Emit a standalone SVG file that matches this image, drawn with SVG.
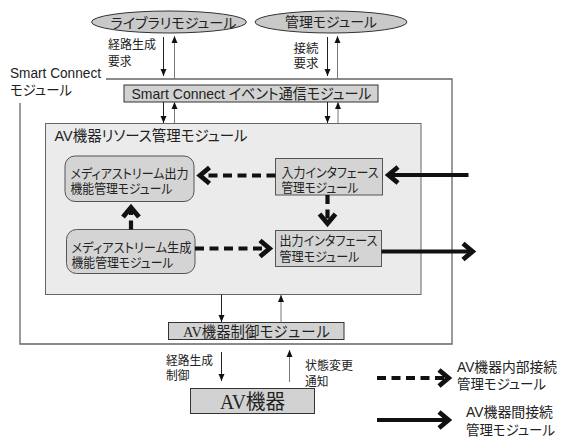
<svg xmlns="http://www.w3.org/2000/svg" width="563" height="438" viewBox="0 0 563 438">
<defs>
<style>
.t{font-family:'Liberation Sans','Noto Sans CJK JP',sans-serif;fill:#222;font-feature-settings:"palt" 1;}
.s{font-family:'Liberation Serif','Noto Sans CJK JP',serif;fill:#222;}
.ell{fill:#c9c9c9;stroke:#333;stroke-width:1;}
.gbox{fill:#d2d2d2;stroke:#333;stroke-width:1;}
.ibox{fill:#d4d4d4;stroke:#555;stroke-width:1;}
.thinD{fill:none;stroke:#222;stroke-width:1;}
.thinU{fill:none;stroke:#777;stroke-width:1;}
.thick{fill:none;stroke:#111;stroke-width:4.2;}
.dash{fill:none;stroke:#111;stroke-width:4.2;stroke-dasharray:9 5.5;}
</style>
<marker id="tri" markerUnits="userSpaceOnUse" viewBox="-8 -4 9 8" markerWidth="9" markerHeight="8" refX="0" refY="0" orient="auto">
<path d="M-7,-3 L0,0 L-7,3 Z" fill="#111"/>
</marker>
<marker id="chev" markerUnits="userSpaceOnUse" viewBox="-14 -12 22 24" markerWidth="22" markerHeight="24" refX="0" refY="0" orient="auto" overflow="visible">
<path d="M-8.5,-8 L1,0 L-8.5,8" fill="none" stroke="#111" stroke-width="4.8" stroke-linejoin="miter" stroke-dasharray="none"/>
</marker>
</defs>
<rect width="563" height="438" fill="#fff"/>

<g id="smart-connect-module">
<path d="M106,79 H452 V344 H20 V103" fill="none" stroke="#666" stroke-width="1.3"/>
<text class="t" x="10" y="78" font-size="14" textLength="91" lengthAdjust="spacingAndGlyphs">Smart Connect</text>
<text class="t" x="10" y="95" font-size="14" textLength="62" lengthAdjust="spacingAndGlyphs">モジュール</text>
</g>

<g id="library-module">
<ellipse class="ell" cx="169" cy="22" rx="77.5" ry="11"/>
<text class="t" x="110.5" y="27.5" font-size="14" textLength="126" lengthAdjust="spacingAndGlyphs">ライブラリモジュール</text>
</g>

<g id="management-module">
<ellipse class="ell" cx="331" cy="22" rx="76" ry="11"/>
<text class="t" x="285" y="27" font-size="14" textLength="92" lengthAdjust="spacingAndGlyphs">管理モジュール</text>
</g>

<g id="event-module">
<rect class="gbox" x="124" y="85" width="254" height="17"/>
<text class="t" x="131.5" y="98.5" font-size="15" textLength="240" lengthAdjust="spacingAndGlyphs">Smart Connect イベント通信モジュール</text>
</g>

<g id="av-resource-module">
<rect x="45.5" y="123.5" width="375.5" height="171" fill="#ebebeb" stroke="#666" stroke-width="1"/>
<text class="t" x="54.5" y="141" font-size="15" textLength="193" lengthAdjust="spacingAndGlyphs">AV機器リソース管理モジュール</text>
</g>

<g id="media-output">
<rect class="ibox" x="65" y="156" width="129" height="45.5" rx="10"/>
<text class="t" x="70.5" y="178" font-size="13" textLength="118" lengthAdjust="spacingAndGlyphs">メディアストリーム出力</text>
<text class="t" x="70.5" y="192.7" font-size="13" textLength="102" lengthAdjust="spacingAndGlyphs">機能管理モジュール</text>
</g>

<g id="media-generation">
<rect class="ibox" x="66.5" y="229.5" width="128.5" height="44" rx="10"/>
<text class="t" x="71.5" y="252.3" font-size="13" textLength="120" lengthAdjust="spacingAndGlyphs">メディアストリーム生成</text>
<text class="t" x="71.5" y="266.7" font-size="13" textLength="102" lengthAdjust="spacingAndGlyphs">機能管理モジュール</text>
</g>

<g id="input-interface">
<rect class="ibox" x="275.5" y="158.5" width="107" height="36.5"/>
<text class="t" x="281.5" y="176.7" font-size="13" textLength="97" lengthAdjust="spacingAndGlyphs">入力インタフェース</text>
<text class="t" x="281.5" y="192" font-size="13" textLength="77" lengthAdjust="spacingAndGlyphs">管理モジュール</text>
</g>

<g id="output-interface">
<rect class="ibox" x="275.5" y="230.5" width="106" height="36"/>
<text class="t" x="279.5" y="245" font-size="13" textLength="98" lengthAdjust="spacingAndGlyphs">出力インタフェース</text>
<text class="t" x="279.5" y="260.5" font-size="13" textLength="80" lengthAdjust="spacingAndGlyphs">管理モジュール</text>
</g>

<g id="av-control-module">
<rect class="gbox" x="168.5" y="322.5" width="175.5" height="17"/>
<text class="s" x="183" y="337" font-size="15" textLength="147" lengthAdjust="spacingAndGlyphs">AV機器制御モジュール</text>
</g>

<g id="av-device">
<rect class="gbox" x="190.5" y="388.5" width="124" height="25"/>
<text class="s" x="220" y="408.5" font-size="20" textLength="65" lengthAdjust="spacingAndGlyphs">AV機器</text>
</g>

<g id="labels">
<text class="t" x="108" y="48.5" font-size="12" textLength="48" lengthAdjust="spacingAndGlyphs">経路生成</text>
<text class="t" x="108" y="65.5" font-size="12" textLength="23.5" lengthAdjust="spacingAndGlyphs">要求</text>
<text class="t" x="293.5" y="52.5" font-size="12" textLength="25" lengthAdjust="spacingAndGlyphs">接続</text>
<text class="t" x="293.5" y="67.5" font-size="12" textLength="25" lengthAdjust="spacingAndGlyphs">要求</text>
<text class="t" x="166" y="365" font-size="12" textLength="47" lengthAdjust="spacingAndGlyphs">経路生成</text>
<text class="t" x="166" y="379.5" font-size="12" textLength="23.5" lengthAdjust="spacingAndGlyphs">制御</text>
<text class="t" x="305" y="369.5" font-size="12" textLength="48" lengthAdjust="spacingAndGlyphs">状態変更</text>
<text class="t" x="305" y="386" font-size="12" textLength="23.5" lengthAdjust="spacingAndGlyphs">通知</text>
</g>

<g id="legend">
<text class="t" x="457" y="372" font-size="14" textLength="100" lengthAdjust="spacingAndGlyphs">AV機器内部接続</text>
<text class="t" x="457" y="389" font-size="14" textLength="89" lengthAdjust="spacingAndGlyphs">管理モジュール</text>
<text class="t" x="466" y="417" font-size="14" textLength="87" lengthAdjust="spacingAndGlyphs">AV機器間接続</text>
<text class="t" x="466" y="435" font-size="14" textLength="89" lengthAdjust="spacingAndGlyphs">管理モジュール</text>
</g>

<g id="connectors">
<path class="thinD" d="M163.5,37 V76" marker-end="url(#tri)"/>
<path class="thinU" d="M174.5,79 V36" marker-end="url(#tri)"/>
<path class="thinD" d="M327.5,37 V76" marker-end="url(#tri)"/>
<path class="thinU" d="M337.5,79 V36" marker-end="url(#tri)"/>
<path class="thinD" d="M163.5,102 V123" marker-end="url(#tri)"/>
<path class="thinU" d="M174.5,123 V102" marker-end="url(#tri)"/>
<path class="thinD" d="M327.5,102 V123" marker-end="url(#tri)"/>
<path class="thinU" d="M338,123 V102" marker-end="url(#tri)"/>
<path class="thinD" d="M221.5,294.5 V322" marker-end="url(#tri)"/>
<path class="thinU" d="M281,322.5 V295" marker-end="url(#tri)"/>
<path class="thinD" d="M221.5,352 V381" marker-end="url(#tri)"/>
<path class="thinU" d="M289.5,382 V350" marker-end="url(#tri)"/>

<path class="dash" d="M275.5,175.5 H201" marker-end="url(#chev)"/>
<path class="dash" d="M327.5,195 V222.5" marker-end="url(#chev)"/>
<path class="dash" d="M131,229.5 V208.5" marker-end="url(#chev)"/>
<path class="dash" d="M195,248.5 H268.5" marker-end="url(#chev)"/>
<path class="thick" d="M468.5,175 H389.5" marker-end="url(#chev)"/>
<path class="thick" d="M381.5,251.5 H471.5" marker-end="url(#chev)"/>
<path class="dash" d="M377,378 H447.5" marker-end="url(#chev)"/>
<path class="thick" d="M377,420 H447.5" marker-end="url(#chev)"/>
</g>
</svg>
